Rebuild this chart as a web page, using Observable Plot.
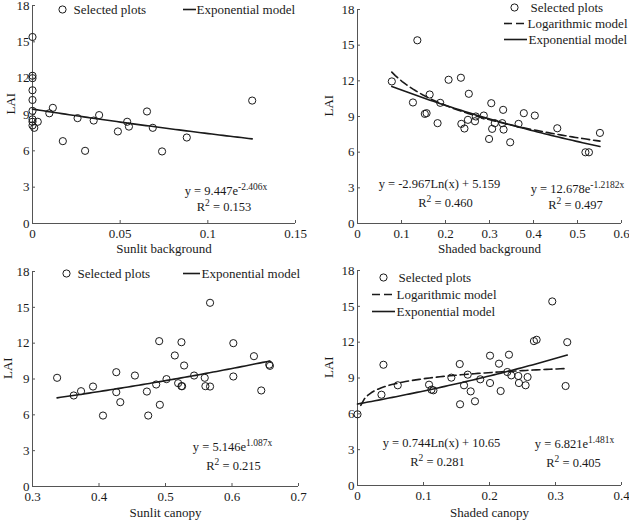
<!DOCTYPE html>
<html>
<head>
<meta charset="utf-8">
<script src="https://cdn.jsdelivr.net/npm/d3@7"></script>
<script src="https://cdn.jsdelivr.net/npm/@observablehq/plot@0.6"></script>
<style>
  body { margin: 0; background: #fff; }
  #charts { position: relative; width: 629px; height: 520px; overflow: hidden; }
  #charts svg { position: absolute; overflow: visible; }
</style>
</head>
<body>
<div id="charts"></div>
<script>
const yTicks = [0, 3, 6, 9, 12, 15, 18];

// Sunlit background
const sunlitBgX = [0, 0, 0, 0, 0, 0, 0, 0, 0, 0.001, 0.003, 0.0096, 0.0116, 0.0173, 0.0257, 0.030, 0.0349, 0.038, 0.0487, 0.054, 0.055, 0.0653, 0.0686, 0.0739, 0.088, 0.1253];
const sunlitBgY = [15.4, 12.2, 12.0, 11.0, 10.2, 9.3, 8.6, 8.4, 8.1, 7.9, 8.4, 9.1, 9.55, 6.8, 8.7, 6.0, 8.5, 8.95, 7.6, 8.4, 8.0, 9.25, 7.9, 5.95, 7.1, 10.15];
const sunlitBgExp = [9.447, -2.406];

// Shaded background
const shadedBgX = [0.078, 0.126, 0.136, 0.153, 0.157, 0.164, 0.182, 0.188, 0.207, 0.235, 0.236, 0.243, 0.251, 0.253, 0.267, 0.269, 0.287, 0.299, 0.304, 0.306, 0.312, 0.329, 0.331, 0.332, 0.347, 0.366, 0.378, 0.403, 0.454, 0.518, 0.526, 0.551];
const shadedBgY = [11.95, 10.18, 15.41, 9.22, 9.28, 10.85, 8.44, 10.15, 12.09, 12.26, 8.38, 7.99, 8.72, 10.91, 8.6, 9.0, 9.08, 7.11, 10.12, 7.96, 8.44, 8.44, 9.56, 7.9, 6.83, 8.38, 9.28, 9.08, 8.01, 5.99, 5.99, 7.62];
const shadedBgLog = [-2.967, 5.159];
const shadedBgExp = [12.678, -1.2182];

// Sunlit canopy
const sunlitCanX = [0.337, 0.362, 0.373, 0.391, 0.406, 0.426, 0.426, 0.432, 0.454, 0.474, 0.472, 0.4915, 0.486, 0.4905, 0.5015, 0.514, 0.519, 0.524, 0.525, 0.524, 0.528, 0.543, 0.559, 0.560, 0.567, 0.567, 0.602, 0.602, 0.633, 0.644, 0.656, 0.657];
const sunlitCanY = [9.1, 7.62, 7.98, 8.37, 5.94, 9.57, 7.9, 7.06, 9.29, 5.94, 7.95, 6.84, 8.54, 12.17, 8.99, 10.97, 8.65, 8.4, 8.4, 12.08, 10.13, 9.29, 9.1, 8.4, 15.38, 8.37, 12.0, 9.21, 10.91, 8.04, 10.2, 10.1];
const sunlitCanExp = [5.146, 1.087];

// Shaded canopy
const shadedCanX = [0, 0.0363, 0.0393, 0.061, 0.1084, 0.112, 0.115, 0.1422, 0.1549, 0.1554, 0.1614, 0.167, 0.1715, 0.178, 0.186, 0.2008, 0.2008, 0.2144, 0.2169, 0.2295, 0.227, 0.233, 0.2436, 0.2446, 0.2547, 0.2577, 0.2673, 0.2714, 0.2951, 0.3153, 0.3178];
const shadedCanY = [5.96, 7.6, 10.11, 8.39, 8.44, 8.02, 7.97, 9.03, 10.17, 6.8, 8.39, 9.28, 7.88, 7.05, 8.89, 10.87, 8.58, 10.2, 7.91, 10.95, 9.5, 9.22, 9.17, 8.58, 8.39, 9.08, 12.09, 12.2, 15.41, 8.33, 12.0];
const shadedCanLog = [0.744, 10.65];
const shadedCanExp = [6.821, 1.481];

const ink = "#1a1a1a";
const axisInk = "#555";
const font = "'Liberation Serif', 'Times New Roman', serif";

const rows = (xs, ys) => xs.map((x, i) => ({x, y: ys[i]}));
// model curves, drawn from the fitted equations printed on the chart
const expCurve = ([a, b], x0, x1) =>
  d3.range(61).map((i) => { const x = x0 + (x1 - x0) * i / 60; return {x, y: a * Math.exp(b * x)}; });
const logCurve = ([a, b], x0, x1) =>
  d3.range(61).map((i) => { const x = x0 + (x1 - x0) * i / 60; return {x, y: a * Math.log(x) + b}; });

const lineSym = (h) => ({draw(ctx) { ctx.moveTo(-h, 0); ctx.lineTo(h, 0); }});
const dashed = "8,4";

function legendMarks(items) {
  return items.flatMap((it) => [
    it.dash === undefined
      ? Plot.dot([0], {frameAnchor: "top-left", dx: it.sx, dy: it.dy, r: 3.6, stroke: ink, strokeWidth: 1})
      : Plot.dot([0], {frameAnchor: "top-left", dx: it.sx, dy: it.dy, symbol: lineSym(it.half), fill: "none", stroke: ink, strokeWidth: 1.6, strokeDasharray: it.dash || null}),
    Plot.text([it.label], {frameAnchor: "top-left", lineAnchor: "middle", dx: it.tx, dy: it.dy, text: (d) => d, textAnchor: "start", fill: ink})
  ]);
}

function panel(c) {
  const [x0, x1] = d3.extent(c.xs);
  const curves = c.models.map((m) =>
    Plot.line(m.kind === "log" ? logCurve(m.coef, Math.max(x0, 0.005), x1) : expCurve(m.coef, x0, x1), {
      x: "x", y: "y", stroke: ink, strokeWidth: 1.6, strokeDasharray: m.kind === "log" ? dashed : null
    })
  );
  const svg = Plot.plot({
    width: c.w,
    height: 260,
    marginLeft: c.m[0],
    marginRight: c.m[1],
    marginTop: c.m[2],
    marginBottom: c.m[3],
    style: {fontFamily: font, fontSize: "13px", color: ink, background: "transparent"},
    x: {domain: c.xDomain},
    y: {domain: [0, 18]},
    marks: [
      Plot.axisY({ticks: yTicks, tickSize: 0, tickPadding: 3, label: null, fill: ink}),
      Plot.axisY({ticks: yTicks, tickSize: -3, text: null, label: null, stroke: axisInk}),
      Plot.axisX({ticks: c.xTicks, tickSize: 0, tickPadding: 5, tickFormat: (d) => String(d), label: null, fill: ink}),
      Plot.axisX({ticks: c.xTicks, tickSize: -3, text: null, label: null, stroke: axisInk}),
      Plot.text(["LAI"], {frameAnchor: "left", lineAnchor: "middle", rotate: -90, dx: c.ly, text: (d) => d, fill: ink}),
      Plot.text([c.xLabel], {frameAnchor: "bottom", lineAnchor: "middle", dy: c.lx, text: (d) => d, fill: ink}),
      Plot.ruleX([c.xDomain[0]], {stroke: axisInk}),
      Plot.ruleY([0], {stroke: axisInk}),
      ...curves,
      Plot.dot(rows(c.xs, c.ys), {x: "x", y: "y", r: 3.6, stroke: ink, strokeWidth: 1}),
      ...c.notes.map((n) => Plot.text([n.text], {frameAnchor: "bottom", lineAnchor: "middle", dx: n.dx, dy: n.dy, text: (d) => d, fontSize: 12.5, fill: ink})),
      ...legendMarks(c.legend)
    ]
  });
  svg.style.left = c.left + "px";
  svg.style.top = c.top + "px";
  superscripts(svg);
  return svg;
}

// turn "^{...}" into raised tspans
function superscripts(svg) {
  for (const t of svg.querySelectorAll("text")) {
    const s = t.textContent;
    if (!s.includes("^{")) continue;
    t.textContent = "";
    s.split(/\^\{([^}]*)\}/).forEach((p, i) => {
      if (!p) return;
      const ts = document.createElementNS("http://www.w3.org/2000/svg", "tspan");
      ts.textContent = p;
      if (i % 2) { ts.setAttribute("dy", "-5"); ts.setAttribute("font-size", "9.5px"); }
      else if (i > 0) ts.setAttribute("dy", "5");
      t.appendChild(ts);
    });
  }
}

const charts = document.querySelector("#charts");

charts.append(panel({
  left: 0, top: 0, w: 315, m: [32, 20, 5, 37], ly: -22, lx: 25,
  xs: sunlitBgX, ys: sunlitBgY,
  xDomain: [0, 0.15], xTicks: [0, 0.05, 0.1, 0.15], xLabel: "Sunlit background",
  models: [{kind: "exp", coef: sunlitBgExp}],
  notes: [
    {text: "y = 9.447e^{-2.406x}", dx: 62, dy: -33},
    {text: "R^{2} = 0.153", dx: 60, dy: -17}
  ],
  legend: [
    {label: "Selected plots", sx: 30, tx: 41, dy: 4},
    {label: "Exponential model", sx: 157, half: 6.5, dash: "", tx: 164, dy: 4}
  ]
}));

charts.append(panel({
  left: 315, top: 0, w: 314, m: [42, 8, 9, 37], ly: -29, lx: 25,
  xs: shadedBgX, ys: shadedBgY,
  xDomain: [0, 0.6], xTicks: [0, 0.1, 0.2, 0.3, 0.4, 0.5, 0.6], xLabel: "Shaded background",
  models: [{kind: "log", coef: shadedBgLog}, {kind: "exp", coef: shadedBgExp}],
  notes: [
    {text: "y = -2.967Ln(x) + 5.159", dx: -50, dy: -40},
    {text: "R^{2} = 0.460", dx: -44, dy: -21},
    {text: "y = 12.678e^{-1.2182x}", dx: 88, dy: -35},
    {text: "R^{2} = 0.497", dx: 86, dy: -19}
  ],
  legend: [
    {label: "Selected plots", sx: 157, tx: 173, dy: -2},
    {label: "Logarithmic model", sx: 158, half: 11.5, dash: dashed, tx: 170, dy: 14},
    {label: "Exponential model", sx: 158, half: 11.5, dash: "", tx: 171, dy: 30}
  ]
}));

charts.append(panel({
  left: 0, top: 260, w: 315, m: [32, 17, 11, 34], ly: -25, lx: 26,
  xs: sunlitCanX, ys: sunlitCanY,
  xDomain: [0.3, 0.7], xTicks: [0.3, 0.4, 0.5, 0.6, 0.7], xLabel: "Sunlit canopy",
  models: [{kind: "exp", coef: sunlitCanExp}],
  notes: [
    {text: "y = 5.146e^{1.087x}", dx: 67, dy: -40},
    {text: "R^{2} = 0.215", dx: 68, dy: -21}
  ],
  legend: [
    {label: "Selected plots", sx: 34, tx: 45, dy: 2},
    {label: "Exponential model", sx: 159, half: 8.5, dash: "", tx: 169, dy: 2}
  ]
}));

charts.append(panel({
  left: 315, top: 260, w: 314, m: [42, 8, 10, 35], ly: -29, lx: 27,
  xs: shadedCanX, ys: shadedCanY,
  xDomain: [0, 0.4], xTicks: [0, 0.1, 0.2, 0.3, 0.4], xLabel: "Shaded canopy",
  models: [{kind: "log", coef: shadedCanLog}, {kind: "exp", coef: shadedCanExp}],
  notes: [
    {text: "y = 0.744Ln(x) + 10.65", dx: -48, dy: -43},
    {text: "R^{2} = 0.281", dx: -52, dy: -24},
    {text: "y = 6.821e^{1.481x}", dx: 85, dy: -42},
    {text: "R^{2} = 0.405", dx: 84, dy: -23}
  ],
  legend: [
    {label: "Selected plots", sx: 26, tx: 41, dy: 7},
    {label: "Logarithmic model", sx: 26, half: 11.5, dash: dashed, tx: 39, dy: 24},
    {label: "Exponential model", sx: 26, half: 11.5, dash: "", tx: 39, dy: 41}
  ]
}));
</script>
</body>
</html>
